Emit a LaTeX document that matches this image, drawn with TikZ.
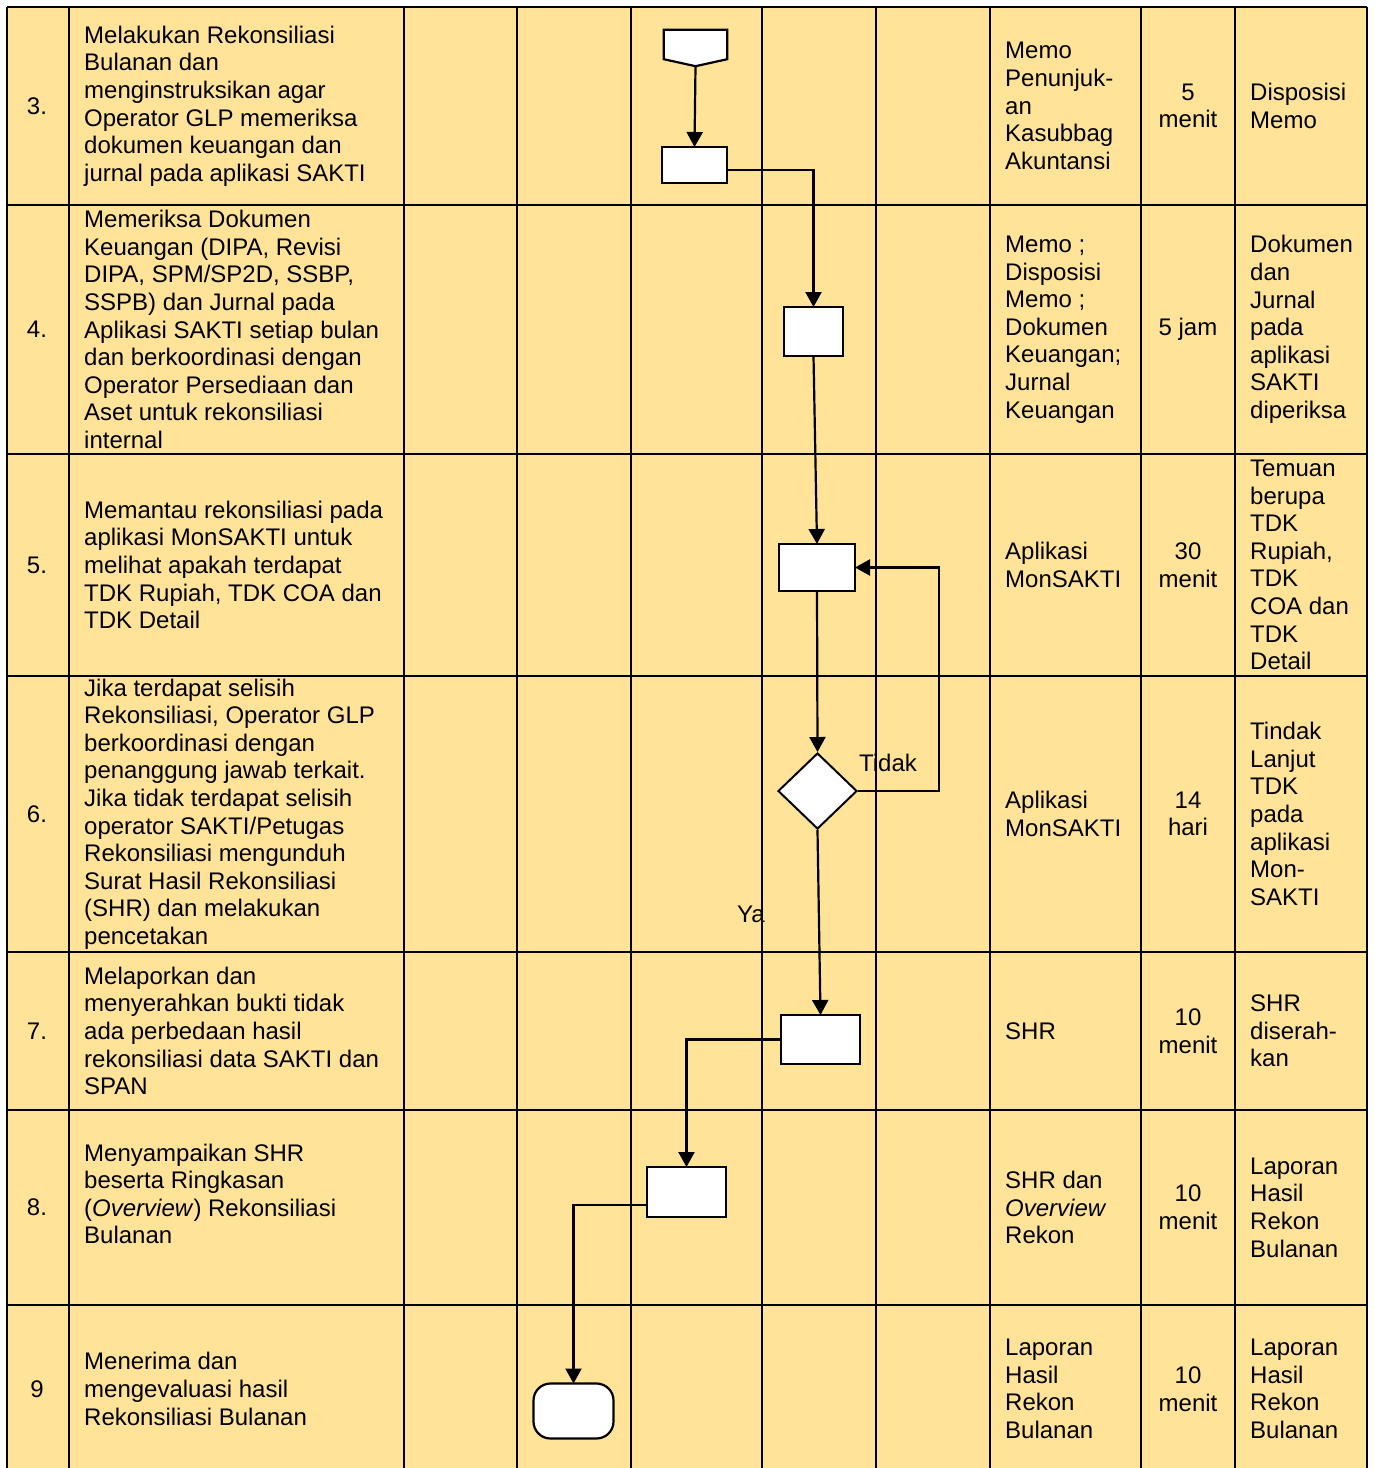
\documentclass[tikz,border=0pt]{standalone}
\usepackage{fontspec}
\setmainfont{Liberation Sans}
\usetikzlibrary{arrows.meta,shapes.geometric}
\definecolor{kuning}{RGB}{255,227,153}
\tikzset{
    garis/.style = {
        draw=black,
        line width=1.3pt
    },
    proses/.style = {
        rectangle,
        draw=black,
        fill=white,
        line width=2.2pt,
        inner sep=0pt,
        outer sep=0pt
    },
    keputusan/.style = {
        diamond,
        draw=black,
        fill=white,
        line width=2pt,
        inner sep=0pt,
        minimum width=79pt,
        minimum height=76pt
    },
    alur/.style = {
        line width=2.2pt,
        -{Triangle[width=16pt,length=15pt]}
    },
    isi/.style = {
        anchor=west,
        align=left,
        inner sep=0pt,
        font=\fontsize{24}{27.6}\selectfont
    },
    tengah/.style = {
        isi,
        anchor=center,
        align=center
    }
}
\begin{document}
\begin{tikzpicture}[x=1pt,y=-1pt]
    \useasboundingbox (0,0) rectangle (1374,1468);
    \fill[kuning] (7,7) rectangle (1367,1468);

    % garis tabel
    \foreach \gx in {7,69,404,517,631,762,876,990,1141,1235,1367}
        \draw[garis] (\gx,7) -- (\gx,1468);
    \foreach \gy in {7,205,454,676,952,1110,1305}
        \draw[garis] (7,\gy) -- (1367,\gy);

    % baris 3
    \node [tengah] (no3) at (37,106) {3.};
    \node [isi] (ket3) at (84,106) {Melakukan Rekonsiliasi\\Bulanan dan\\menginstruksikan agar\\Operator GLP memeriksa\\dokumen keuangan dan\\jurnal pada aplikasi SAKTI};
    \node [isi] (syarat3) at (1005,106) {Memo\\Penunjuk-\\an\\Kasubbag\\Akuntansi};
    \node [tengah] (waktu3) at (1188,106) {5\\menit};
    \node [isi] (hasil3) at (1250,106) {Disposisi\\Memo};

    % baris 4
    \node [tengah] (no4) at (37,329.5) {4.};
    \node [isi] (ket4) at (84,329.5) {Memeriksa Dokumen\\Keuangan (DIPA, Revisi\\DIPA, SPM/SP2D, SSBP,\\SSPB) dan Jurnal pada\\Aplikasi SAKTI setiap bulan\\dan berkoordinasi dengan\\Operator Persediaan dan\\Aset untuk rekonsiliasi\\internal};
    \node [isi] (syarat4) at (1005,329.5) {Memo ;\\Disposisi\\Memo ;\\Dokumen\\Keuangan;\\Jurnal\\Keuangan};
    \node [tengah] (waktu4) at (1188,329.5) {5 jam};
    \node [isi] (hasil4) at (1250,329.5) {Dokumen\\dan\\Jurnal\\pada\\aplikasi\\SAKTI\\diperiksa};

    % baris 5
    \node [tengah] (no5) at (37,565) {5.};
    \node [isi] (ket5) at (84,565) {Memantau rekonsiliasi pada\\aplikasi MonSAKTI untuk\\melihat apakah terdapat\\TDK Rupiah, TDK COA dan\\TDK Detail};
    \node [isi] (syarat5) at (1005,565) {Aplikasi\\MonSAKTI};
    \node [tengah] (waktu5) at (1188,565) {30\\menit};
    \node [isi] (hasil5) at (1250,565) {Temuan\\berupa\\TDK\\Rupiah,\\TDK\\COA dan\\TDK\\Detail};

    % baris 6
    \node [tengah] (no6) at (37,814) {6.};
    \node [isi] (ket6) at (84,814) {Jika terdapat selisih\\Rekonsiliasi, Operator GLP\\berkoordinasi dengan\\penanggung jawab terkait.\\Jika tidak terdapat selisih\\operator SAKTI/Petugas\\Rekonsiliasi mengunduh\\Surat Hasil Rekonsiliasi\\(SHR) dan melakukan\\pencetakan};
    \node [isi] (syarat6) at (1005,814) {Aplikasi\\MonSAKTI};
    \node [tengah] (waktu6) at (1188,814) {14\\hari};
    \node [isi] (hasil6) at (1250,814) {Tindak\\Lanjut\\TDK\\pada\\aplikasi\\Mon-\\SAKTI};

    % baris 7
    \node [tengah] (no7) at (37,1031) {7.};
    \node [isi] (ket7) at (84,1031) {Melaporkan dan\\menyerahkan bukti tidak\\ada perbedaan hasil\\rekonsiliasi data SAKTI dan\\SPAN};
    \node [isi] (syarat7) at (1005,1031) {SHR};
    \node [tengah] (waktu7) at (1188,1031) {10\\menit};
    \node [isi] (hasil7) at (1250,1031) {SHR\\diserah-\\kan};

    % baris 8
    \node [tengah] (no8) at (37,1207.5) {8.};
    \node [isi] (ket8) at (84,1194) {Menyampaikan SHR\\beserta Ringkasan\\(\textit{Overview}) Rekonsiliasi\\Bulanan};
    \node [isi] (syarat8) at (1005,1207.5) {SHR dan\\\textit{Overview}\\Rekon};
    \node [tengah] (waktu8) at (1188,1207.5) {10\\menit};
    \node [isi] (hasil8) at (1250,1207.5) {Laporan\\Hasil\\Rekon\\Bulanan};

    % baris 9
    \node [tengah] (no9) at (37,1389) {9};
    \node [isi] (ket9) at (84,1389) {Menerima dan\\mengevaluasi hasil\\Rekonsiliasi Bulanan};
    \node [isi] (syarat9) at (1005,1389) {Laporan\\Hasil\\Rekon\\Bulanan};
    \node [tengah] (waktu9) at (1188,1389) {10\\menit};
    \node [isi] (hasil9) at (1250,1389) {Laporan\\Hasil\\Rekon\\Bulanan};

    % bagan alir
    \node [inner sep=0pt, minimum width=63pt, minimum height=36pt] (mulai) at (695.5,48) {};
    \draw [line width=2.2pt, fill=white] (mulai.north west) -- (mulai.north east)
        -- ([yshift=7pt]mulai.south east) -- (mulai.south)
        -- ([yshift=7pt]mulai.south west) -- cycle;
    \node [proses, minimum width=65pt, minimum height=36pt] (b3) at (694.5,165) {};
    \node [proses, minimum width=59pt, minimum height=49pt] (b4) at (813.5,331.5) {};
    \node [proses, minimum width=76pt, minimum height=47pt] (b5) at (817,567.5) {};
    \node [keputusan] (cek) at (817.5,791) {};
    \node [proses, minimum width=79pt, minimum height=49pt] (b7) at (820.5,1039.5) {};
    \node [proses, minimum width=79pt, minimum height=50pt] (b8) at (686.5,1192) {};
    \node [proses, rounded corners=17pt, minimum width=80pt, minimum height=55pt] (akhir) at (573.5,1411) {};

    \draw [alur] (mulai.south) -- (b3.north);
    \draw [alur] ([yshift=-5pt]b3.east) -| (b4.north);
    \draw [alur] (b4.south) -- (b5.north);
    \draw [alur] (b5.south) -- (cek.north);
    \draw [alur] (cek.east) -- ++(81,0) |- (b5.east);
    \draw [alur] (cek.south) -- (b7.north);
    \draw [alur] (b7.west) -| (b8.north);
    \draw [alur] ([yshift=-13pt]b8.west) -| (akhir.north);

    \node [isi, anchor=center] (tidak) at (888,763) {Tidak};
    \node [isi, anchor=center] (ya) at (751,914) {Ya};
\end{tikzpicture}
\end{document}
